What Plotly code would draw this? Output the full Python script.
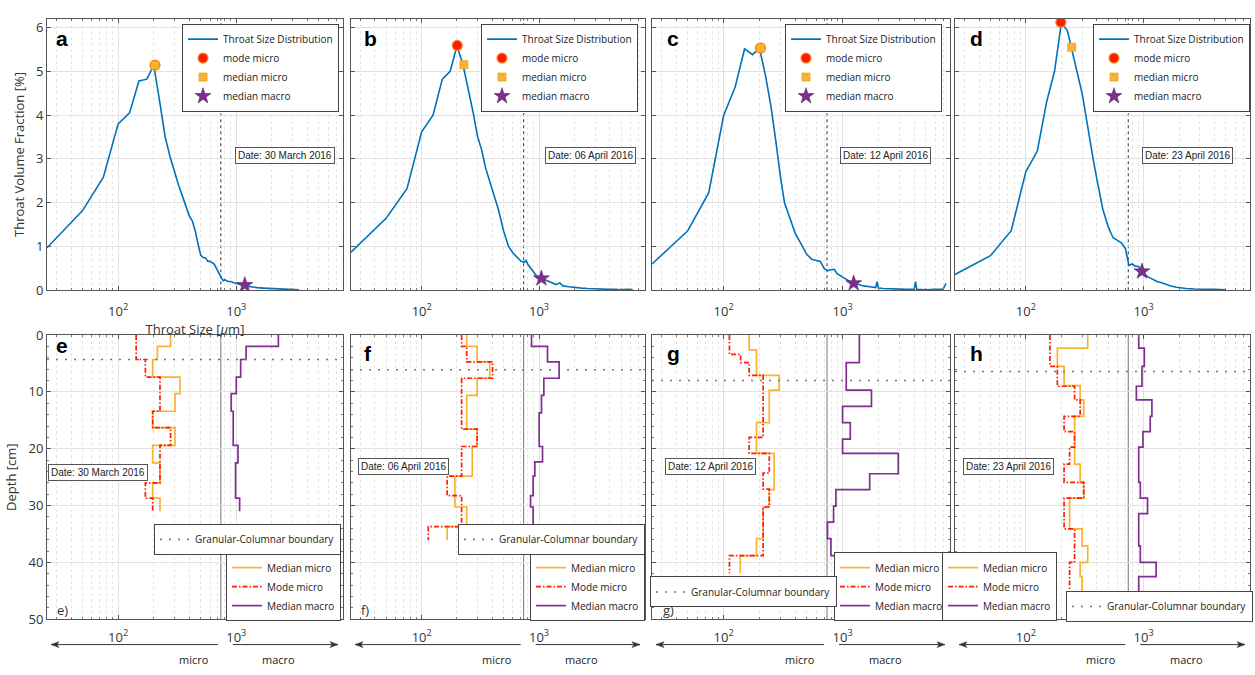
import numpy as np
import plotly.graph_objects as go

# ---------------- data ----------------
DATES = ['30 March 2016', '06 April 2016', '12 April 2016', '23 April 2016']
TOP_LETTERS = ['a', 'b', 'c', 'd']
BOT_LETTERS = ['e', 'f', 'g', 'h']

# throat size distributions (throat size [um], volume fraction [%])
A_size = [25, 50, 75, 100, 125, 150, 175, 200, 225, 250, 275, 300, 325, 350, 375, 400, 425, 450, 475, 500,
          525, 550, 575, 600, 650, 700, 750, 775, 800, 850, 900, 950, 1000, 1100, 1200, 1300, 1500, 1700,
          2000, 2200, 2500, 2800, 3000, 3400]
A_frac = [0.97, 1.82, 2.58, 3.80, 4.05, 4.78, 4.82, 5.14, 4.30, 3.50, 3.05, 2.70, 2.40, 2.15, 1.90, 1.70, 1.58,
          1.35, 1.05, 0.80, 0.75, 0.74, 0.66, 0.66, 0.60, 0.42, 0.28, 0.22, 0.24, 0.20, 0.20, 0.17, 0.15, 0.13,
          0.10, 0.08, 0.06, 0.05, 0.04, 0.05, 0.03, 0.03, 0.02, 0.01]
B_size = [25, 50, 75, 100, 125, 150, 175, 200, 225, 250, 275, 300, 325, 350, 375, 400, 450, 500, 550, 600,
          650, 700, 750, 775, 800, 850, 900, 950, 1000, 1100, 1200, 1300, 1400, 1500, 1600, 1800, 2000, 2300,
          2600, 3000, 3500, 4000, 4500, 5000, 5600, 6300]
B_frac = [0.87, 1.65, 2.32, 3.62, 4.00, 4.82, 5.00, 5.58, 5.15, 4.60, 4.05, 3.50, 3.20, 2.80, 2.55, 2.30, 1.85,
          1.35, 1.00, 0.85, 0.75, 0.67, 0.64, 0.68, 0.60, 0.50, 0.42, 0.33, 0.30, 0.25, 0.20, 0.15, 0.13, 0.17,
          0.10, 0.08, 0.06, 0.05, 0.04, 0.03, 0.03, 0.02, 0.02, 0.01, 0.02, 0.01]
C_size = [25, 50, 75, 100, 125, 150, 175, 200, 225, 250, 275, 300, 325, 350, 375, 400, 450, 500, 550, 600,
          650, 700, 750, 800, 850, 900, 1000, 1100, 1200, 1300, 1500, 1700, 1900, 1950, 2000, 2200, 2500, 3000,
          3500, 4000, 4100, 4200, 5000, 6000, 7000, 7400]
C_frac = [0.60, 1.36, 2.23, 3.99, 4.64, 5.51, 5.38, 5.53, 4.90, 4.20, 3.40, 2.60, 2.00, 1.75, 1.50, 1.30, 1.05,
          0.82, 0.71, 0.68, 0.66, 0.50, 0.45, 0.47, 0.48, 0.38, 0.30, 0.22, 0.17, 0.15, 0.10, 0.08, 0.06, 0.20,
          0.05, 0.04, 0.03, 0.03, 0.02, 0.02, 0.20, 0.02, 0.01, 0.02, 0.02, 0.16]
D_size = [25, 50, 75, 100, 125, 150, 175, 200, 225, 250, 275, 300, 325, 350, 375, 400, 450, 500, 550, 600,
          650, 700, 750, 800, 850, 900, 950, 1000, 1100, 1200, 1300, 1400, 1500, 1700, 1900, 2000, 2300, 2700,
          3200, 4000, 5000]
D_frac = [0.36, 0.79, 1.36, 2.71, 3.18, 4.30, 5.00, 6.10, 5.93, 5.40, 4.90, 4.50, 3.95, 3.40, 2.95, 2.55, 1.85,
          1.45, 1.20, 1.14, 1.08, 0.95, 0.57, 0.60, 0.55, 0.55, 0.45, 0.38, 0.30, 0.25, 0.20, 0.18, 0.15, 0.10,
          0.07, 0.06, 0.04, 0.03, 0.03, 0.02, 0.01]

MODE_MICRO_X = [205, 201, 204, 198]
MODE_MICRO_Y = [5.14, 5.59, 5.53, 6.12]
MEDIAN_MICRO_X = [205, 229, 204, 245]
MEDIAN_MICRO_Y = [5.14, 5.15, 5.53, 5.55]
MEDIAN_MACRO_X = [1180, 1048, 1240, 968]
MEDIAN_MACRO_Y = [0.12, 0.27, 0.16, 0.43]

MICRO_MACRO_THRESHOLD = 740          # um
BOUNDARY_DEPTH = [4.3, 6.1, 8.0, 6.4]  # cm
PROFILE_BOTTOM = [31.0, 36.1, 41.9, 45.1]

# depth profiles: layer top depths [cm] and values [um]
E_med_top = [0, 2.0, 4.3, 7.4, 10.3, 13.4, 16.3, 19.4, 22.5, 26.0, 28.7]
E_med_val = [278, 215, 196, 334, 303, 196, 303, 196, 226, 196, 226]
E_mode_top = [0, 4.3, 7.4, 13.4, 16.3, 19.4, 26.0, 28.7]
E_mode_val = [142, 170, 226, 196, 278, 226, 170, 196]
E_mac_top = [0, 2.0, 4.3, 7.4, 10.3, 13.4, 19.4, 22.5, 28.7]
E_mac_val = [2270, 1210, 1089, 1000, 906, 942, 1033, 986, 1067]

F_med_top = [0, 2.0, 4.7, 7.6, 10.6, 16.55, 19.6, 24.8, 30.25, 33.7]
F_med_val = [242, 297, 381, 297, 242, 297, 270, 192, 242, 165]
F_mode_top = [0, 2.0, 4.7, 7.6, 16.55, 19.6, 24.8, 28.25, 33.7]
F_mode_val = [219, 242, 402, 219, 297, 219, 165, 219, 114]
F_mac_top = [0, 2.0, 4.7, 7.6, 10.6, 13.7, 19.6, 22.3, 24.8, 28.25, 30.25, 33.7]
F_mac_val = [863, 1181, 1483, 1099, 1050, 1003, 1071, 921, 891, 847, 891, 921]

G_med_top = [0, 2.6, 7.1, 9.7, 15.4, 20.8, 27.2, 30.25, 35.8, 38.8]
G_med_val = [164, 189, 293, 242, 189, 266, 242, 215, 189, 138]
G_mode_top = [0, 3.4, 4.85, 7.1, 18.0, 20.8, 24.3, 27.1, 30.25, 38.8]
G_mode_val = [112, 139, 164, 215, 164, 242, 215, 242, 215, 112]
G_mac_top = [0, 4.85, 9.7, 12.56, 15.4, 18.3, 20.8, 24.4, 27.2, 30.1, 32.9, 35.8, 38.8]
G_mac_val = [1384, 1074, 1750, 1000, 1161, 1000, 2940, 1690, 879, 840, 747, 798, 879]

H_med_top = [0, 2.3, 5.5, 8.9, 11.4, 14.3, 22.7, 25.9, 28.7, 34.1, 37.1, 40.0, 42.5]
H_med_val = [335, 185, 211, 289, 310, 259, 289, 310, 235, 300, 335, 289, 300]
H_mode_top = [0, 5.5, 9.0, 11.4, 14.3, 17.0, 19.7, 22.7, 25.9, 28.7, 34.1, 40.0]
H_mode_val = [160, 185, 259, 289, 211, 259, 235, 211, 310, 211, 259, 235]
H_mac_top = [0, 2.3, 5.5, 9.0, 11.4, 14.3, 17.0, 19.7, 25.9, 28.7, 31.4, 37.1, 40.0, 42.5]
H_mac_val = [908, 1013, 968, 867, 1175, 1137, 986, 908, 937, 1079, 908, 937, 1276, 908]

TOP_SIZES = [A_size, B_size, C_size, D_size]
TOP_FRACS = [A_frac, B_frac, C_frac, D_frac]
PROFILES = [
    [(E_med_top, E_med_val), (E_mode_top, E_mode_val), (E_mac_top, E_mac_val)],
    [(F_med_top, F_med_val), (F_mode_top, F_mode_val), (F_mac_top, F_mac_val)],
    [(G_med_top, G_med_val), (G_mode_top, G_mode_val), (G_mac_top, G_mac_val)],
    [(H_med_top, H_med_val), (H_mode_top, H_mode_val), (H_mac_top, H_mac_val)],
]

# ---------------- layout geometry ----------------
W, H = 1255, 675
X_MIN, X_MAX = 25, 8000
XLO, XHI = np.log10(X_MIN), np.log10(X_MAX)
COLS = [(47, 343), (351, 645), (652, 950), (955, 1250)]
TOP_ROW = (10, 289)
BOT_ROW = (335, 627)

BLUE = '#0072BD'
RED = '#FF1A00'
ORANGE = '#F9B233'
PURPLE = '#7E2F8E'
FONT = 'Open Sans'


def fx(px):
    return px / W


def fy(py):
    return 1 - py / H


MINOR_X = [m * 10 ** e for e in (1, 2, 3) for m in range(2, 10) if X_MIN < m * 10 ** e < X_MAX]

fig = go.Figure()
annotations = []
shapes = []
layout = dict(width=W, height=H, margin=dict(l=0, r=0, t=0, b=0), autosize=False,
              paper_bgcolor='white', plot_bgcolor='white', showlegend=True)


def ax_base():
    return dict(showline=True, linecolor='#555', linewidth=1, mirror='ticks', ticks='inside',
                ticklen=4, tickcolor='#555', showgrid=True, gridcolor='#e2e2e2', gridwidth=1,
                zeroline=False, tickfont=dict(family=FONT, size=13, color='#333'))


def legend_box(x, y, size, xanchor='right', yanchor='top'):
    return dict(x=x, y=y, xanchor=xanchor, yanchor=yanchor, bgcolor='white', bordercolor='#444',
                borderwidth=1, font=dict(family=FONT, size=size, color='#222'), itemwidth=30,
                tracegroupgap=0, traceorder='normal')


def text_ann(text, px, py, size, family=FONT, color='#222', **kw):
    d = dict(text=text, x=fx(px), y=fy(py), xref='paper', yref='paper', showarrow=False,
             xanchor='center', yanchor='middle', font=dict(family=family, size=size, color=color))
    d.update(kw)
    return d


# legend boxes: (right edge, top edge) in pixels
TOP_LEG_POS = [(339, 15), (638, 15), (942, 15), (1250, 15)]
BOT_LEG_POS = [(341, 558), (645, 558), (949, 558), (1057, 558)]
BND_LEG = [('right', 341, 529), ('right', 645, 529), ('left', 650, 583), ('right', 1253, 598)]
TOP_DATE_POS = [(285, 151), (590, 151), (886, 151), (1187, 151)]
BOT_DATE_POS = [(98, 476), (403, 470), (710, 470), (1008, 470)]
TOP_LETTER_POS = [(62, 30), (370, 30), (673, 30), (976, 30)]
BOT_LETTER_POS = [(62, 346), (368, 354), (674, 354), (976, 354)]
BOT_TAG_POS = [(62, 617), (365, 617), (668, 617), None]

for r in range(2):
    for c in range(4):
        n = r * 4 + c + 1
        xname = 'xaxis' if n == 1 else f'xaxis{n}'
        yname = 'yaxis' if n == 1 else f'yaxis{n}'
        xref = 'x' if n == 1 else f'x{n}'
        yref = 'y' if n == 1 else f'y{n}'
        left, right = COLS[c]
        top, bot = TOP_ROW if r == 0 else BOT_ROW

        xa = ax_base()
        xa.update(type='log', range=[XLO, XHI], domain=[fx(left), fx(right)], anchor=yref,
                  tickvals=[100, 1000], ticktext=['10<sup>2</sup>', '10<sup>3</sup>'],
                  ticklabelstandoff=9 if r == 0 else 6,
                  minor=dict(tickvals=MINOR_X, ticks='inside', ticklen=2, tickcolor='#777',
                             showgrid=True, gridcolor='#e6e6e6', griddash='dot'))
        ya = ax_base()
        ya.update(domain=[fy(bot), fy(top)], anchor=xref, showticklabels=(c == 0))
        if r == 0:
            ya.update(range=[0, 6.2], tickvals=list(range(0, 7)))
        else:
            ya.update(range=[50, 0], tickvals=list(range(0, 51, 10)),
                      minor=dict(dtick=2, ticks='inside', ticklen=2, tickcolor='#777', showgrid=False))
        if n == 1:
            xa['title'] = dict(text='Throat Size [<i>μ</i>m]', font=dict(family=FONT, size=13, color='#333'),
                               standoff=0)
            ya['title'] = dict(text='Throat Volume Fraction [%]', font=dict(family=FONT, size=13, color='#333'),
                               standoff=8)
        if n == 5:
            ya['title'] = dict(text='Depth [cm]', font=dict(family=FONT, size=13, color='#333'), standoff=8)
        layout[xname] = xa
        layout[yname] = ya

        line_px = left + (np.log10(MICRO_MACRO_THRESHOLD) - XLO) / (XHI - XLO) * (right - left)

        if r == 0:
            lg = 'legend' if c == 0 else f'legend{c + 1}'
            layout[lg] = legend_box(fx(TOP_LEG_POS[c][0]), fy(TOP_LEG_POS[c][1]), 10)
            fig.add_trace(go.Scatter(x=TOP_SIZES[c], y=TOP_FRACS[c], mode='lines', name='Throat Size Distribution',
                                     line=dict(color=BLUE, width=1.6), xaxis=xref, yaxis=yref, legend=lg,
                                     showlegend=True))
            fig.add_trace(go.Scatter(x=[MODE_MICRO_X[c]], y=[MODE_MICRO_Y[c]], mode='markers', name='mode micro',
                                     marker=dict(symbol='circle', size=10, color=RED,
                                                 line=dict(color='#F58A1F', width=1.2)),
                                     xaxis=xref, yaxis=yref, legend=lg, showlegend=True))
            fig.add_trace(go.Scatter(x=[MEDIAN_MICRO_X[c]], y=[MEDIAN_MICRO_Y[c]], mode='markers', name='median micro',
                                     marker=dict(symbol='square', size=8, color=ORANGE,
                                                 line=dict(color='#EFA21E', width=0.8)),
                                     xaxis=xref, yaxis=yref, legend=lg, showlegend=True))
            fig.add_trace(go.Scatter(x=[MEDIAN_MACRO_X[c]], y=[MEDIAN_MACRO_Y[c]], mode='markers', name='median macro',
                                     marker=dict(symbol='star', size=12, color=PURPLE,
                                                 line=dict(color='#5E1F6E', width=0.6)),
                                     xaxis=xref, yaxis=yref, legend=lg, showlegend=True))
            shapes.append(dict(type='line', xref=xref, yref=f'{yref} domain', x0=MICRO_MACRO_THRESHOLD,
                               x1=MICRO_MACRO_THRESHOLD, y0=0, y1=1,
                               line=dict(color='#333', width=1, dash='dot'), layer='below'))
            annotations.append(text_ann('Date: ' + DATES[c], *TOP_DATE_POS[c], 10, family='Liberation Sans',
                                        bgcolor='white', bordercolor='#555', borderwidth=1, borderpad=2))
            annotations.append(text_ann('<b>' + TOP_LETTERS[c] + '</b>', *TOP_LETTER_POS[c], 21,
                                        family='Liberation Sans', color='black'))
        else:
            lg = f'legend{c + 5}'
            lgb = f'legend{c + 9}'
            layout[lg] = legend_box(fx(BOT_LEG_POS[c][0]), fy(BOT_LEG_POS[c][1]), 10)
            anc, bx, by = BND_LEG[c]
            layout[lgb] = legend_box(fx(bx), fy(by), 10, xanchor=anc)
            styles = [('Median micro', ORANGE, 'solid'), ('Mode micro', RED, '5px,2px,1.5px,2px'),
                      ('Median macro', PURPLE, 'solid')]
            for (tops, vals), (nm, col, dash) in zip(PROFILES[c], styles):
                fig.add_trace(go.Scatter(x=list(vals) + [vals[-1]], y=list(tops) + [PROFILE_BOTTOM[c]],
                                         mode='lines', name=nm,
                                         line=dict(color=col, width=1.7, dash=dash, shape='vh'),
                                         xaxis=xref, yaxis=yref, legend=lg, showlegend=True))
            shapes.append(dict(type='line', xref=xref, yref=f'{yref} domain', x0=MICRO_MACRO_THRESHOLD,
                               x1=MICRO_MACRO_THRESHOLD, y0=0, y1=1,
                               line=dict(color='#777', width=1), layer='below'))
            shapes.append(dict(type='line', xref=f'{xref} domain', yref=yref, x0=0, x1=1,
                               y0=BOUNDARY_DEPTH[c], y1=BOUNDARY_DEPTH[c],
                               line=dict(color='#777', width=1.6, dash='2px,7px'),
                               showlegend=True, name='Granular-Columnar boundary', legend=lgb))
            annotations.append(text_ann('Date: ' + DATES[c], *BOT_DATE_POS[c], 10, family='Liberation Sans',
                                        bgcolor='white', bordercolor='#555', borderwidth=1, borderpad=2))
            annotations.append(text_ann('<b>' + BOT_LETTERS[c] + '</b>', *BOT_LETTER_POS[c], 21,
                                        family='Liberation Sans', color='black'))
            if BOT_TAG_POS[c] is not None:
                annotations.append(text_ann(BOT_LETTERS[c] + ')', *BOT_TAG_POS[c], 13, color='#333'))
            # micro / macro arrows below the panel (lines with triangular heads)
            ay_px = 653
            lh, lt = left + 4, line_px - 3
            rt, rh = line_px + 12, right - 5
            for x0, x1 in ((lt, lh), (rt, rh)):
                shapes.append(dict(type='line', xref='paper', yref='paper', x0=fx(x0), x1=fx(x1),
                                   y0=fy(ay_px), y1=fy(ay_px), line=dict(color='#333', width=1)))
                s = 1 if x1 > x0 else -1
                path = (f'M {fx(x1)} {fy(ay_px)} L {fx(x1 - s * 8)} {fy(ay_px - 3)} '
                        f'L {fx(x1 - s * 6)} {fy(ay_px)} L {fx(x1 - s * 8)} {fy(ay_px + 3)} Z')
                shapes.append(dict(type='path', xref='paper', yref='paper', path=path,
                                   fillcolor='#333', line=dict(color='#333', width=0.5)))
            annotations.append(text_ann('micro', line_px - 27, 668, 11))
            annotations.append(text_ann('macro', line_px + 58, 668, 11))

layout['annotations'] = annotations
layout['shapes'] = shapes
fig.update_layout(**layout)
fig.write_html('out.html')
